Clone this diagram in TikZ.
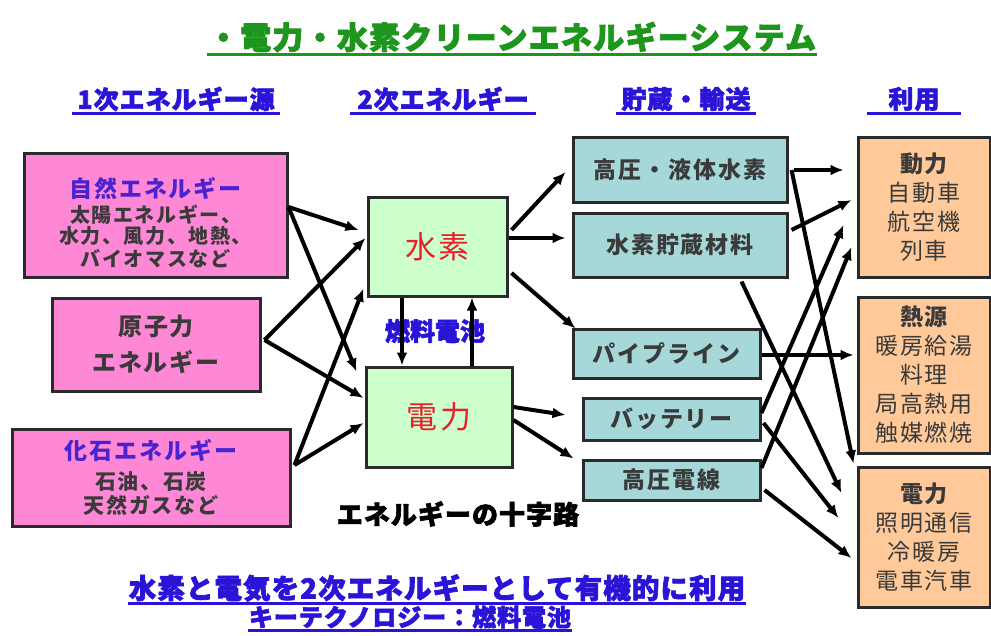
\documentclass[tikz,border=0pt]{standalone}
\usepackage{fontspec}
\setmainfont{Noto Sans CJK JP}
\newfontfamily\heavy{Noto Sans CJK JP}[BoldFeatures={FakeBold=2.5}]
\newfontfamily\jps{Noto Sans CJK JP}[LetterSpace=8]
\newfontfamily\jpt{Noto Sans CJK JP}[LetterSpace=4,BoldFeatures={FakeBold=2.5}]
\usetikzlibrary{arrows.meta,calc}
\definecolor{pinkf}{HTML}{FF88D6}
\definecolor{greenf}{HTML}{CCFFCC}
\definecolor{cyanf}{HTML}{A6D8DA}
\definecolor{orangef}{HTML}{FFC999}
\definecolor{edge}{HTML}{2A2A2A}
\definecolor{headblue}{HTML}{2A14D8}
\definecolor{boxblue}{HTML}{4A22D0}
\definecolor{titlegreen}{HTML}{1E961E}
\definecolor{txt}{HTML}{3A3A3A}
\definecolor{hred}{HTML}{E8202A}
\begin{document}
\begin{tikzpicture}[x=1pt,y=-1pt,
  box/.style={draw=edge, line width=3pt, inner sep=0pt, align=center, text=txt},
  pinkbox/.style={box, fill=pinkf},
  greenbox/.style={box, fill=greenf, text=hred, font=\jps\fontsize{31}{31}\selectfont},
  cyanbox/.style={box, fill=cyanf, font=\jps\bfseries\fontsize{23}{23}\selectfont},
  orangebox/.style={box, fill=orangef, font=\jps\fontsize{23}{29}\selectfont},
  boxtext/.style={align=center, text=txt, inner sep=0pt},
  heading/.style={text=headblue, font=\jpt\bfseries\fontsize{25}{25}\selectfont, inner sep=1pt},
  uline/.style={line width=3pt},
  arr/.style={line width=4pt, draw=black, -{Latex[length=13pt,width=11pt]}},
]
\fill[white] (0,0) rectangle (991,635);
\useasboundingbox (0,0) rectangle (991,635);

% title
\node[text=titlegreen, font=\jpt\bfseries\fontsize{31}{31}\selectfont, inner sep=1pt] (title) at (512,37) {・電力・水素クリーンエネルギーシステム};
\draw[titlegreen, uline] ($(title.south west)+(0,1)$) -- ($(title.south east)+(0,1)$);

% column headings
\node[heading] (hd1) at (176,99) {1次エネルギー源};
\node[heading] (hd2) at (443,99) {2次エネルギー};
\node[heading] (hd3) at (686,99) {貯蔵・輸送};
\node[heading] (hd4) at (914,99) {利用};
\draw[headblue, uline] ($(hd1.south west)+(-4,1)$) -- ($(hd1.south east)+(4,1)$);
\draw[headblue, uline] ($(hd2.south west)+(-6,1)$) -- ($(hd2.south east)+(6,1)$);
\draw[headblue, uline] ($(hd3.south west)+(-4,1)$) -- ($(hd3.south east)+(4,1)$);
\draw[headblue, uline] ($(hd4.south west)+(-20,1)$) -- ($(hd4.south east)+(20,1)$);

% primary energy sources
\node[pinkbox, minimum width=263pt, minimum height=124pt] (p1) at (155.5,215) {};
\node[boxtext] (p1t) at ($(p1)+(0,8)$)
  {{\color{boxblue}\jps\bfseries\fontsize{23}{23}\selectfont 自然エネルギー}\\[4pt]
   {\jps\bfseries\fontsize{20}{22}\selectfont 太陽エネルギー、}\\[1pt]
   {\jps\bfseries\fontsize{20}{22}\selectfont 水力、風力、地熱、}\\[3pt]
   {\jps\bfseries\fontsize{20}{22}\selectfont バイオマスなど}};
\node[pinkbox, minimum width=208pt, minimum height=93pt] (p2) at (156,344.5)
  {{\jps\bfseries\fontsize{24}{24}\selectfont 原子力}\\[11pt]{\jps\bfseries\fontsize{24}{24}\selectfont エネルギー}};
\node[pinkbox, minimum width=278pt, minimum height=97pt] (p3) at (151,477.5)
  {{\color{boxblue}\jps\bfseries\fontsize{23}{23}\selectfont 化石エネルギー}\\[9pt]
   {\jps\bfseries\fontsize{21}{21}\selectfont 石油、石炭}\\[3pt]
   {\jps\bfseries\fontsize{21}{21}\selectfont 天然ガスなど}};

% secondary energy
\node[greenbox, minimum width=139pt, minimum height=99pt] (h) at (437.5,246.5) {水素};
\node[greenbox, minimum width=146pt, minimum height=100pt] (e) at (439,417) {電力};
\node[text=headblue, font=\heavy\bfseries\fontsize{25}{25}\selectfont, inner sep=0pt] (fc) at (435,331) {燃料電池};
\node[text=black, font=\jpt\bfseries\fontsize{26}{26}\selectfont, inner sep=0pt] (cross) at (458,514) {エネルギーの十字路};

% storage / transport
\node[cyanbox, minimum width=214pt, minimum height=65pt] (s1) at (680,169.5) {高圧・液体水素};
\node[cyanbox, minimum width=214pt, minimum height=64pt] (s2) at (680,245) {水素貯蔵材料};
\node[cyanbox, minimum width=187pt, minimum height=49pt] (s3) at (666.5,353.5) {パイプライン};
\node[cyanbox, minimum width=177pt, minimum height=42pt] (s4) at (671.5,419) {バッテリー};
\node[cyanbox, minimum width=177pt, minimum height=40pt] (s5) at (671.5,480) {高圧電線};

% use
\node[orangebox, minimum width=132pt, minimum height=140pt] (u1) at (924,207)
  {{\bfseries 動力}\\自動車\\航空機\\列車};
\node[orangebox, minimum width=132pt, minimum height=156pt] (u2) at (924,375)
  {{\bfseries 熱源}\\暖房給湯\\料理\\局高熱用\\触媒燃焼};
\node[orangebox, minimum width=132pt, minimum height=140pt] (u3) at (924,537)
  {{\bfseries 電力}\\照明通信\\冷暖房\\電車汽車};

% bottom text
\node[text=headblue, font=\jpt\bfseries\fontsize{27.5}{27.5}\selectfont, inner sep=1pt] (b1) at (437,588) {水素と電気を2次エネルギーとして有機的に利用};
\draw[headblue, uline] ($(b1.south west)+(0,1)$) -- ($(b1.south east)+(0,1)$);
\node[text=headblue, font=\jpt\bfseries\fontsize{24}{24}\selectfont, inner sep=1pt] (b2) at (410,617) {キーテクノロジー：燃料電池};
\draw[headblue, uline] ($(b2.south west)+(0,1)$) -- ($(b2.south east)+(0,1)$);

% primary -> secondary
\draw[arr] ($(p1.east)+(0,-8)$) -- ($(h.west)+(-8,-16.5)$);
\draw[arr] ($(p1.east)+(0,-8)$) -- ($(e.north west)+(-8,6)$);
\draw[arr] ($(p2.east)+(3,-4.5)$) -- ($(h.west)+(-1,-8.5)$);
\draw[arr] ($(p2.east)+(3,-4.5)$) -- ($(e.west)+(-1,-19)$);
\draw[arr] ($(p3.east)+(3,-12.5)$) -- ($(h.south west)+(-3,-9)$);
\draw[arr] ($(p3.east)+(3,-12.5)$) -- ($(e.west)+(-1,6)$);

% fuel cell cross
\draw[arr] ($(h.south)+(-35.5,0)$) -- ($(e.north)+(-37,0)$);
\draw[arr] ($(e.north)+(33,0)$) -- ($(h.south)+(34.5,0)$);

% secondary -> storage
\draw[arr] ($(h.east)+(3,-16.5)$) -- ($(s1.west)+(-6,2.5)$);
\draw[arr] ($(h.east)+(0,-8.5)$) -- ($(s2.west)+(-6,-7)$);
\draw[arr] ($(h.east)+(3,26.5)$) -- ($(s3.north west)+(4,1)$);
\draw[arr] ($(e.east)+(0,-10)$) -- ($(s4.west)+(-16,-4)$);
\draw[arr] ($(e.east)+(0,3)$) -- ($(s5.north west)+(-8,0)$);

% storage -> use
\draw[arr] ($(s1.east)+(5,0.5)$) -- ($(u1.west)+(-13,-37)$);
\draw[arr] ($(s1.east)+(3,0.5)$) -- ($(u3.north west)+(-3,-2)$);
\draw[arr] ($(s2.east)+(3,-15)$) -- ($(u1.west)+(-5,-7)$);
\draw[arr] ($(s2.south east)+(-47,3)$) -- ($(u3.west)+(-15,-44)$);
\draw[arr] ($(s3.east)+(0,1.5)$) -- ($(u2.west)+(-3,-20)$);
\draw[arr] ($(s4.east)+(0,-6)$) -- ($(u1.west)+(-13,18)$);
\draw[arr] ($(s4.east)+(2,4)$) -- ($(u3.west)+(-18,-19)$);
\draw[arr] ($(s5.east)+(0,-12)$) -- ($(u1.west)+(-5,40)$);
\draw[arr] ($(s5.east)+(3,10)$) -- ($(u3.west)+(-5,21)$);
\end{tikzpicture}
\end{document}
